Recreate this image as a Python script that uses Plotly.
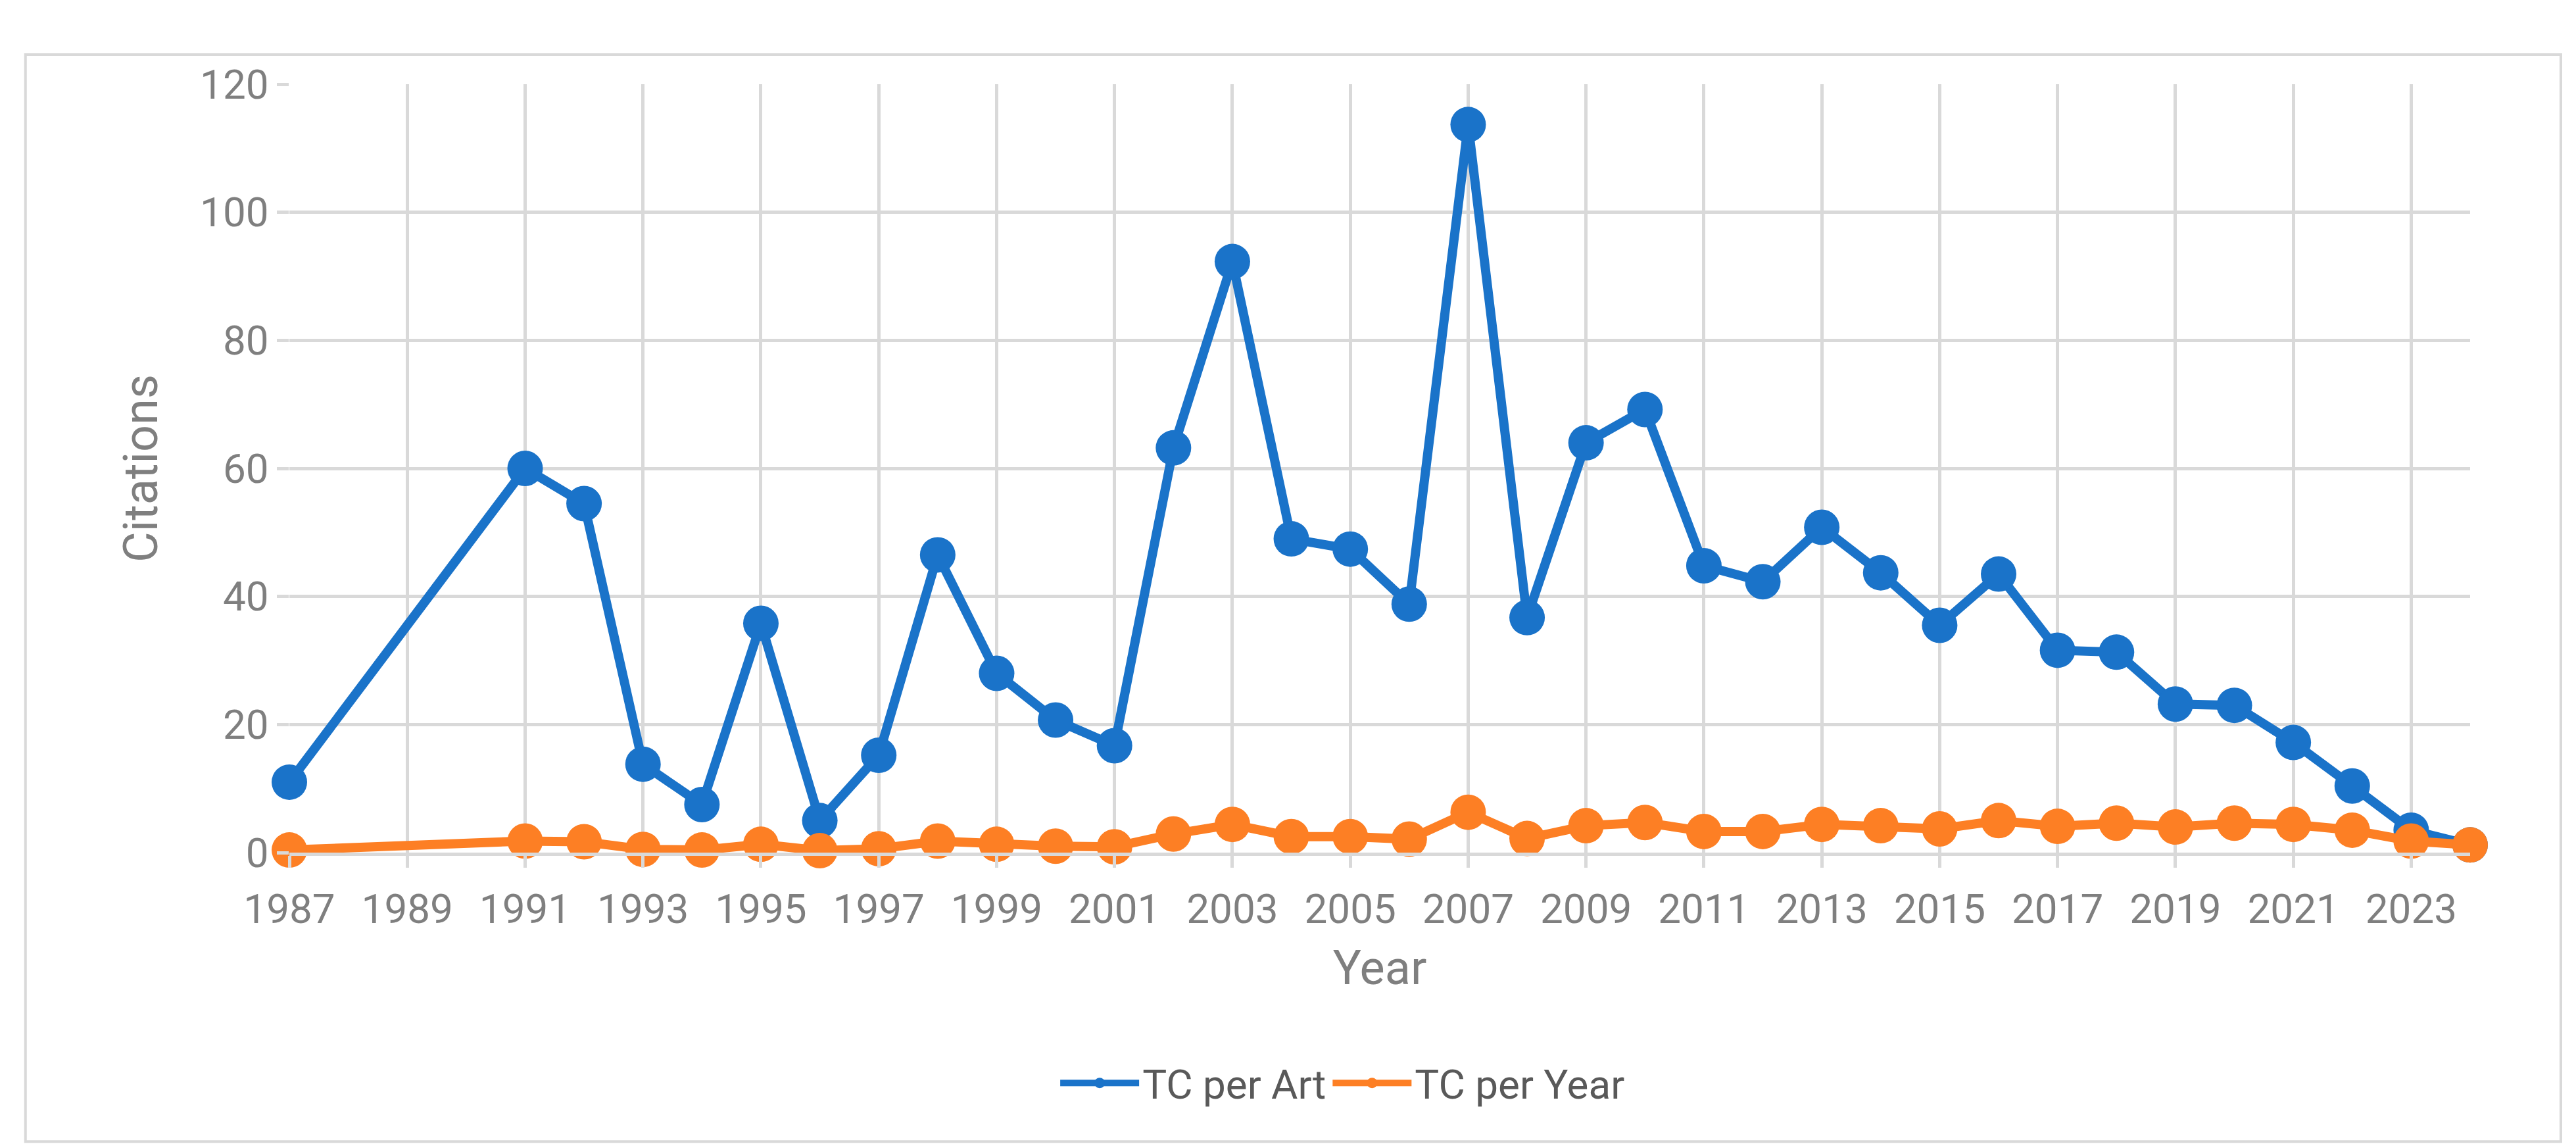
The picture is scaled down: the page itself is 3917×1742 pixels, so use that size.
import plotly.graph_objects as go

years = [1987,1991,1992,1993,1994,1995,1996,1997,1998,1999,2000,2001,2002,2003,2004,2005,2006,2007,2008,2009,2010,2011,2012,2013,2014,2015,2016,2017,2018,2019,2020,2021,2022,2023,2024]
tc_per_art = [11,60,54.5,13.8,7.5,35.8,5,15.2,46.5,28,20.7,16.7,63.2,92.3,49,47.4,38.8,113.7,36.7,64,69.2,44.8,42.3,50.8,43.7,35.5,43.5,31.6,31.3,23.2,23,17.2,10.4,3.5,1.2]
tc_per_year = [0.4,1.8,1.7,0.5,0.4,1.3,0.3,0.6,1.8,1.3,1.0,0.9,2.9,4.4,2.5,2.5,2.1,6.3,2.2,4.2,4.7,3.3,3.3,4.4,4.2,3.7,5.0,4.1,4.6,4.0,4.6,4.4,3.5,1.8,1.2]
tick_years = list(range(1987, 2024, 2))

FONT = "Liberation Sans Narrow, Roboto, sans-serif"
GREY = "#7f7f7f"
GRID = "#d9d9d9"

fig = go.Figure()
fig.add_trace(go.Scatter(x=years, y=tc_per_art, name="TC per Art", mode="lines+markers", cliponaxis=False,
                         line=dict(color="#1a73c9", width=14), marker=dict(size=54, color="#1a73c9")))
fig.add_trace(go.Scatter(x=years, y=tc_per_year, name="TC per Year", mode="lines+markers", cliponaxis=False,
                         line=dict(color="#fd7f24", width=14), marker=dict(size=54, color="#fd7f24")))

fig.update_layout(
    width=3917, height=1742, paper_bgcolor="white", plot_bgcolor="white",
    margin=dict(l=432, r=169, t=120, b=454),
    font=dict(family=FONT, color=GREY, size=62),
    legend=dict(orientation="h", x=0.483, xanchor="center", y=-0.30, yanchor="middle",
                font=dict(size=62, color="#595959"), itemwidth=120, itemsizing="trace"),
    shapes=[dict(type="rect", xref="paper", yref="paper", x0=-0.121, x1=1.0416, y0=-0.376, y1=1.0385,
                 line=dict(color="#d9d9d9", width=4), layer="below")],
)
fig.update_xaxes(range=[1987, 2024], tickmode="array", tickvals=tick_years, ticktext=[str(y) for y in tick_years],
                 showgrid=True, gridcolor=GRID, gridwidth=5, zeroline=False,
                 ticks="outside", ticklen=18, tickcolor=GRID, tickwidth=5,
                 showline=True, linecolor=GRID, linewidth=5,
                 tickfont=dict(size=62, color=GREY), ticklabelstandoff=10,
                 title=dict(text="Year", font=dict(size=72, color=GREY), standoff=30))
fig.update_yaxes(range=[0, 120], dtick=20, showgrid=True, gridcolor=GRID, gridwidth=5, zeroline=False,
                 ticks="outside", ticklen=18, tickcolor=GRID, tickwidth=5,
                 tickfont=dict(size=62, color=GREY),
                 title=dict(text="Citations", font=dict(size=72, color=GREY), standoff=40))
fig.write_html("out.html")
